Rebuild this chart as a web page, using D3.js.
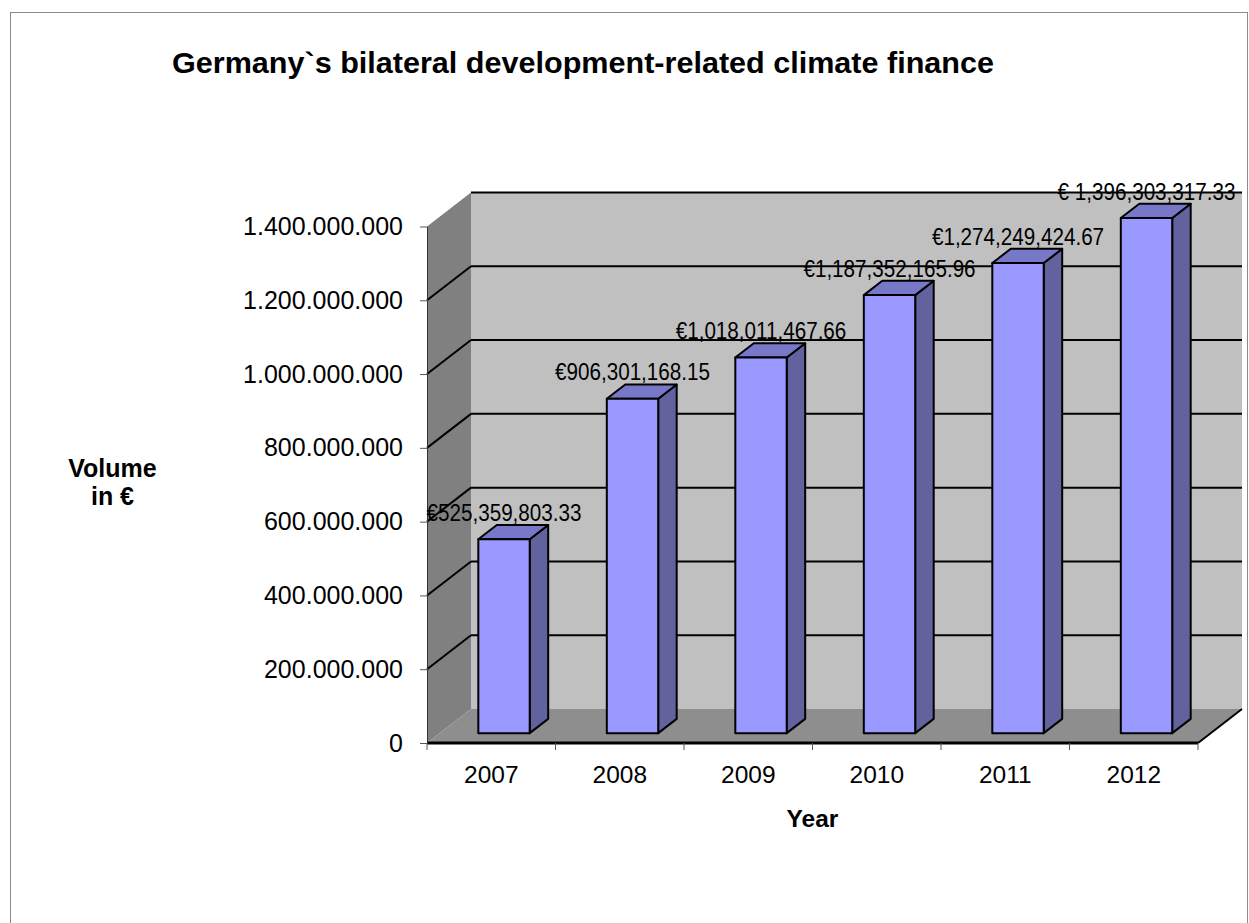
<!DOCTYPE html>
<html>
<head>
<meta charset="utf-8">
<script src="https://cdn.jsdelivr.net/npm/d3@7"></script>
<style>
  html, body { margin: 0; padding: 0; background: #fff; }
  svg { display: block; }
  text { font-family: Arial, "Liberation Sans", sans-serif; fill: #000; }
</style>
</head>
<body>
<svg id="chart" width="1249" height="923"></svg>
<script>
// Chart data
const years = ["2007", "2008", "2009", "2010", "2011", "2012"];
const volumes = [525359803.33, 906301168.15, 1018011467.66, 1187352165.96, 1274249424.67, 1396303317.33];
const labelPrefixes = ["€", "€", "€", "€", "€", "€ "];
const yTicks = [0, 200000000, 400000000, 600000000, 800000000, 1000000000, 1200000000, 1400000000];

const titleText = "Germany`s bilateral development-related climate finance";
const xTitle = "Year";
const yTitleLines = ["Volume", "in €"];

// Layout of the 3-D box
const plot = { left: 427, right: 1198, base: 743, top: 226.5 };
const depth = { dx: 44, dy: -34 };
const barFront = 0.29, barBack = 0.71;

const colors = {
  backWall: "#c0c0c0", sideWall: "#808080", floor: "#8e8e8e",
  barFront: "#9999ff", barTop: "#7878c8", barSide: "#62629e"
};

const svg = d3.select("#chart");

// Outer frame
svg.append("rect")
  .attr("x", 10.5).attr("y", 12.5)
  .attr("width", 1237).attr("height", 920)
  .attr("fill", "none").attr("stroke", "#8a8a8a").attr("stroke-width", 1);

const y = d3.scaleLinear().domain([0, 1400000000]).range([plot.base, plot.top]);
const x = d3.scaleBand().domain(years).range([plot.left, plot.right])
  .paddingInner(0.6).paddingOuter(0.3);
const xCat = d3.scaleBand().domain(years).range([plot.left, plot.right]);

const proj = (px, py, t) => [px + t * depth.dx, py + t * depth.dy];
const poly = pts => "M" + pts.map(p => p.join(",")).join("L") + "Z";

const yMax = y.domain()[1];
const g = svg.append("g");

// Back wall
g.append("path")
  .attr("d", poly([proj(plot.left, y(0), 1), proj(plot.right, y(0), 1),
                   proj(plot.right, y(yMax), 1), proj(plot.left, y(yMax), 1)]))
  .attr("fill", colors.backWall);

// Left side wall
g.append("path")
  .attr("d", poly([proj(plot.left, y(0), 0), proj(plot.left, y(yMax), 0),
                   proj(plot.left, y(yMax), 1), proj(plot.left, y(0), 1)]))
  .attr("fill", colors.sideWall);

// Floor
g.append("path")
  .attr("d", poly([proj(plot.left, y(0), 0), proj(plot.right, y(0), 0),
                   proj(plot.right, y(0), 1), proj(plot.left, y(0), 1)]))
  .attr("fill", colors.floor);

// Gridlines on the back wall and the side wall
const gridVals = yTicks.filter(v => v > 0);
g.selectAll("line.grid-back").data(gridVals).join("line")
  .attr("class", "grid-back")
  .attr("x1", d => proj(plot.left, y(d), 1)[0]).attr("y1", d => proj(plot.left, y(d), 1)[1])
  .attr("x2", d => proj(plot.right, y(d), 1)[0]).attr("y2", d => proj(plot.right, y(d), 1)[1])
  .attr("stroke", "#000").attr("stroke-width", 2);
g.selectAll("line.grid-side").data(gridVals.filter(v => v < yMax)).join("line")
  .attr("class", "grid-side")
  .attr("x1", d => proj(plot.left, y(d), 0)[0]).attr("y1", d => proj(plot.left, y(d), 0)[1])
  .attr("x2", d => proj(plot.left, y(d), 1)[0]).attr("y2", d => proj(plot.left, y(d), 1)[1])
  .attr("stroke", "#000").attr("stroke-width", 2);

// Floor edges
g.append("line")
  .attr("x1", proj(plot.right, y(0), 0)[0]).attr("y1", proj(plot.right, y(0), 0)[1])
  .attr("x2", proj(plot.right, y(0), 1)[0]).attr("y2", proj(plot.right, y(0), 1)[1])
  .attr("stroke", "#000").attr("stroke-width", 2);
g.append("line")
  .attr("x1", plot.left).attr("y1", y(0))
  .attr("x2", plot.right).attr("y2", y(0))
  .attr("stroke", "#000").attr("stroke-width", 3);

// Y axis
const fmtDE = d3.formatLocale({ decimal: ",", thousands: ".", grouping: [3], currency: ["€", ""] }).format(",.0f");
const yAxis = svg.append("g")
  .attr("transform", `translate(${plot.left},0)`)
  .call(d3.axisLeft(y).tickValues(yTicks).tickFormat(fmtDE).tickSize(7).tickSizeOuter(0).tickPadding(17));
yAxis.select(".domain").attr("stroke", "#333").attr("stroke-width", 1);
yAxis.selectAll(".tick line").attr("stroke", "#555");
yAxis.selectAll(".tick text")
  .attr("font-size", "25px").attr("font-family", "Arial, 'Liberation Sans', sans-serif")
  .attr("fill", "#000");

// X axis (labels centred on categories, ticks on category boundaries)
const xAxis = svg.append("g")
  .attr("transform", `translate(0,${plot.base})`)
  .call(d3.axisBottom(xCat).tickSize(0).tickPadding(22.6));
xAxis.select(".domain").remove();
xAxis.selectAll(".tick text")
  .attr("font-size", "24.5px").attr("font-family", "Arial, 'Liberation Sans', sans-serif")
  .attr("fill", "#000");
const bounds = years.map(d => xCat(d)).concat([plot.right]);
svg.selectAll("line.xtick").data(bounds).join("line")
  .attr("class", "xtick")
  .attr("x1", d => d).attr("x2", d => d)
  .attr("y1", plot.base).attr("y2", plot.base + 7)
  .attr("stroke", "#555").attr("stroke-width", 1);

// Bars
const bars = svg.append("g").selectAll("g.bar").data(years.map((d, i) => ({ year: d, v: volumes[i], i })))
  .join("g").attr("class", "bar");
const w = x.bandwidth();
bars.append("path") // side face
  .attr("d", d => {
    const xr = x(d.year) + w;
    return poly([proj(xr, y(0), barFront), proj(xr, y(0), barBack),
                 proj(xr, y(d.v), barBack), proj(xr, y(d.v), barFront)]);
  })
  .attr("fill", colors.barSide).attr("stroke", "#000").attr("stroke-width", 2).attr("stroke-linejoin", "round");
bars.append("path") // top face
  .attr("d", d => {
    const xl = x(d.year), xr = xl + w;
    return poly([proj(xl, y(d.v), barFront), proj(xr, y(d.v), barFront),
                 proj(xr, y(d.v), barBack), proj(xl, y(d.v), barBack)]);
  })
  .attr("fill", colors.barTop).attr("stroke", "#000").attr("stroke-width", 2).attr("stroke-linejoin", "round");
bars.append("path") // front face
  .attr("d", d => {
    const xl = x(d.year), xr = xl + w;
    return poly([proj(xl, y(0), barFront), proj(xr, y(0), barFront),
                 proj(xr, y(d.v), barFront), proj(xl, y(d.v), barFront)]);
  })
  .attr("fill", colors.barFront).attr("stroke", "#000").attr("stroke-width", 2).attr("stroke-linejoin", "round");

// Value labels
const fmtVal = d3.format(",.2f");
const labels = svg.append("g").selectAll("text.val").data(years.map((d, i) => ({ year: d, v: volumes[i], i })))
  .join("text").attr("class", "val")
  .attr("x", d => x(d.year) + w / 2 + barFront * depth.dx)
  .attr("y", d => y(d.v) + barBack * depth.dy - 4)
  .attr("text-anchor", "middle")
  .attr("font-size", "24px")
  .text(d => labelPrefixes[d.i] + fmtVal(d.v));
labels.each(function () {
  const len = this.getComputedTextLength();
  d3.select(this).attr("textLength", len * 0.86).attr("lengthAdjust", "spacingAndGlyphs");
});

// Titles
svg.append("text")
  .attr("x", 172).attr("y", 73)
  .attr("font-size", "30px").attr("font-weight", "bold")
  .attr("textLength", 822).attr("lengthAdjust", "spacingAndGlyphs")
  .text(titleText);
svg.append("text")
  .attr("x", (plot.left + plot.right) / 2).attr("y", 827)
  .attr("text-anchor", "middle").attr("font-size", "24.5px").attr("font-weight", "bold")
  .text(xTitle);
svg.append("g").selectAll("text").data(yTitleLines).join("text")
  .attr("x", 112.5).attr("y", (d, i) => 477 + i * 28.3)
  .attr("text-anchor", "middle").attr("font-size", "25px").attr("font-weight", "bold")
  .text(d => d);
</script>
</body>
</html>
